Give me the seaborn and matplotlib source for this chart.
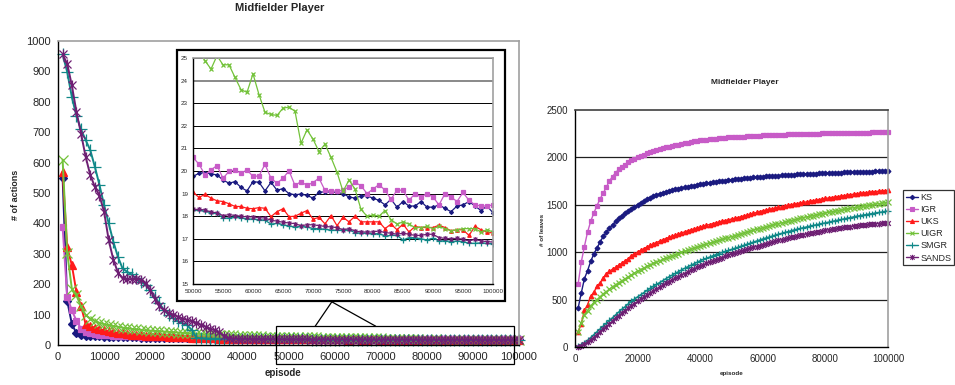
import numpy as np
import pandas as pd
import matplotlib
matplotlib.use('Agg')
import matplotlib.pyplot as plt
import seaborn as sns
from matplotlib.path import Path
from matplotlib.patches import Rectangle
from matplotlib.lines import Line2D

# ── data ────────────────────────────────────────────────────
algorithms = ['KS', 'IGR', 'UKS', 'UIGR', 'SMGR', 'SANDS']

# number of actions, episodes 1000..49000 (left chart, before the zoomed part)
ks_act_early = [550, 145, 70, 38, 33, 31, 30, 29, 28, 27.5,
                27, 26.6, 26.2, 25.8, 25.4, 25, 24.7, 24.4, 24.1, 23.8,
                23.5, 23.3, 23.1, 22.9, 22.7, 22.5, 22.3, 22.1, 22, 21.8,
                21.6, 21.4, 21.3, 21.1, 21, 20.9, 20.8, 20.7, 20.6, 20.5,
                20.4, 20.3, 20.2, 20.1, 20.1, 20, 19.9, 19.9, 19.8]
igr_act_early = [388, 158, 114, 80, 54, 43, 38, 36, 34, 33,
                 32, 31, 30, 29.5, 29, 28.5, 28, 27.5, 27, 26.6,
                 26.2, 25.8, 25.4, 25, 24.7, 24.4, 24.1, 23.8, 23.5, 23.2,
                 23, 22.8, 22.6, 22.4, 22.2, 22, 21.9, 21.8, 21.7, 21.6,
                 21.5, 21.4, 21.3, 21.2, 21.1, 21, 20.9, 20.8, 20.7]
uks_act_early = [570, 321, 263, 174, 128, 68, 62, 57, 52, 48,
                 45, 42, 40, 38, 36, 34, 33, 32, 31, 30,
                 29, 28.5, 28, 27.5, 27, 26.5, 26, 25, 24, 23,
                 22.5, 22, 21.7, 21.4, 21.1, 20.9, 20.7, 20.5, 20.3, 20.1,
                 20, 19.9, 19.8, 19.7, 19.6, 19.5, 19.4, 19.3, 19.2]
uigr_act_early = [610, 304, 185, 163, 127, 98, 87, 79, 73, 68,
                  65, 62, 60, 57, 55, 53, 51, 50, 48, 47,
                  46, 45, 44, 43, 42, 41, 40, 39, 38, 37,
                  36, 35.5, 35, 34, 33, 32.5, 32, 31.5, 31, 30,
                  29.5, 29, 28.5, 28, 27.5, 27, 26.5, 26, 25.7]
smgr_act_early = [956, 898, 816, 753, 709, 674, 641, 586, 526, 460,
                  400, 340, 290, 252, 241, 232, 219, 208, 197, 181,
                  159, 137, 115, 99, 88, 78, 72, 65, 50, 24,
                  22, 21.5, 21, 20.6, 20.3, 20, 19.8, 19.6, 19.4, 19.2,
                  19.1, 19, 18.9, 18.8, 18.7, 18.6, 18.5, 18.4, 18.35]
sands_act_early = [956, 925, 854, 767, 695, 619, 559, 520, 491, 438,
                   345, 281, 238, 219, 216, 217, 217, 215, 203, 180,
                   152, 128, 116, 105, 100, 93, 87, 82, 78, 73,
                   66, 60, 54, 48, 42, 30, 22, 21, 20.6, 20.3,
                   20, 19.7, 19.4, 19.2, 19, 18.8, 18.6, 18.5, 18.4]

# number of actions, episodes 50000..100000 (zoomed inset)
ks_act_late = [19.76, 19.9, 19.93, 19.87, 19.83, 19.6, 19.46, 19.53, 19.27, 19.12,
               19.53, 19.5, 19.12, 19.5, 19.15, 19.22, 19.0, 18.95, 18.98, 18.92,
               18.8, 19.07, 19.07, 19.07, 19.05, 19.0, 18.85, 18.8, 18.9, 18.9,
               18.8, 18.7, 18.5, 18.75, 18.4, 18.65, 18.45, 18.45, 18.65, 18.4,
               18.4, 18.5, 18.35, 18.2, 18.45, 18.5, 18.65, 18.45, 18.25, 18.45, 18.15]
igr_act_late = [20.6, 20.3, 19.83, 20.05, 20.24, 19.68, 19.98, 20.05, 19.9, 20.05,
                19.76, 19.78, 20.3, 19.68, 19.46, 19.68, 20.01, 19.36, 19.53, 19.36,
                19.49, 19.68, 19.14, 19.12, 19.1, 19.15, 19.3, 19.5, 19.35, 19.0,
                19.2, 19.4, 19.15, 18.75, 19.15, 19.15, 18.7, 19.0, 18.85, 19.0,
                18.85, 18.5, 19.0, 18.85, 18.65, 19.05, 18.7, 18.5, 18.45, 18.45, 18.5]
uks_act_late = [19.06, 18.83, 18.97, 18.8, 18.68, 18.65, 18.55, 18.43, 18.43, 18.35,
                18.33, 18.38, 18.35, 17.98, 18.2, 18.33, 17.98, 18.0, 18.13, 18.25,
                17.87, 17.95, 17.66, 18.03, 17.58, 17.95, 17.75, 18.0, 17.75, 17.75,
                17.75, 17.75, 17.45, 17.65, 17.4, 17.65, 17.3, 17.55, 17.5, 17.5,
                17.5, 17.6, 17.5, 17.35, 17.4, 17.4, 17.15, 17.55, 17.4, 17.3, 17.25]
uigr_act_late = [25.5, 25.3, 24.88, 24.51, 25.1, 24.7, 24.7, 24.14, 23.6, 23.48,
                 24.3, 23.38, 22.6, 22.5, 22.46, 22.78, 22.83, 22.64, 21.23, 21.82,
                 21.41, 20.86, 21.19, 20.6, 19.95, 19.1, 19.6, 19.2, 18.3, 18.0,
                 18.05, 18.0, 18.25, 17.85, 17.65, 17.75, 17.65, 17.5, 17.5, 17.55,
                 17.45, 17.55, 17.45, 17.35, 17.4, 17.45, 17.45, 17.45, 17.3, 17.4, 17.3]
smgr_act_late = [18.28, 18.27, 18.22, 18.15, 18.12, 17.92, 17.92, 17.98, 17.93, 17.88,
                 17.87, 17.85, 17.82, 17.65, 17.68, 17.62, 17.57, 17.52, 17.55, 17.52,
                 17.45, 17.45, 17.42, 17.38, 17.38, 17.38, 17.4, 17.27, 17.25, 17.25,
                 17.22, 17.23, 17.12, 17.15, 17.15, 16.95, 17.05, 17.05, 17.0, 16.95,
                 17.03, 16.9, 16.92, 16.88, 16.9, 16.88, 16.8, 16.8, 16.82, 16.8, 16.78]
sands_act_late = [18.3, 18.3, 18.28, 18.18, 18.15, 18.02, 18.07, 18.03, 18.0, 17.97,
                  17.97, 17.93, 17.92, 17.82, 17.78, 17.73, 17.7, 17.67, 17.58, 17.62,
                  17.62, 17.58, 17.55, 17.52, 17.5, 17.4, 17.45, 17.35, 17.3, 17.3,
                  17.3, 17.35, 17.27, 17.25, 17.2, 17.25, 17.2, 17.15, 17.15, 17.2,
                  17.2, 17.05, 17.02, 17.0, 17.02, 16.98, 16.9, 16.98, 16.9, 16.88, 16.85]

# number of leaves, episodes 1000..100000 (right chart)
ks_leaves = [411, 569, 720, 804, 902, 980, 1043, 1106, 1166, 1208,
             1253, 1289, 1324, 1359, 1387, 1411, 1436, 1454, 1475, 1500,
             1522, 1541, 1559, 1575, 1590, 1603, 1615, 1626, 1636, 1645,
             1654, 1662, 1670, 1677, 1684, 1691, 1697, 1703, 1709, 1715,
             1720, 1726, 1731, 1736, 1741, 1746, 1751, 1756, 1761, 1766,
             1770, 1773, 1776, 1779, 1782, 1785, 1788, 1791, 1794, 1797,
             1799, 1802, 1804, 1806, 1808, 1810, 1812, 1814, 1816, 1818,
             1820, 1821, 1823, 1825, 1826, 1828, 1829, 1831, 1832, 1834,
             1835, 1836, 1838, 1839, 1840, 1841, 1843, 1844, 1845, 1846,
             1847, 1848, 1849, 1850, 1851, 1852, 1853, 1854, 1855, 1856]
igr_leaves = [664, 895, 1060, 1211, 1324, 1412, 1489, 1562, 1622, 1685,
              1752, 1798, 1840, 1875, 1903, 1924, 1949, 1973, 1987, 2000,
              2015, 2030, 2042, 2054, 2065, 2075, 2085, 2095, 2105, 2114,
              2121, 2128, 2135, 2142, 2149, 2156, 2162, 2168, 2174, 2180,
              2184, 2188, 2191, 2195, 2198, 2201, 2204, 2207, 2210, 2212,
              2214, 2216, 2218, 2220, 2222, 2224, 2226, 2228, 2230, 2232,
              2233, 2235, 2236, 2238, 2239, 2240, 2241, 2242, 2243, 2244,
              2245, 2246, 2247, 2248, 2249, 2250, 2251, 2252, 2253, 2254,
              2255, 2255, 2256, 2257, 2257, 2258, 2259, 2259, 2260, 2260,
              2261, 2261, 2262, 2262, 2263, 2263, 2264, 2264, 2265, 2265]
uks_leaves = [158, 246, 386, 446, 534, 576, 639, 674, 727, 772,
              797, 822, 839, 864, 885, 909, 930, 962, 983, 1001,
              1020, 1038, 1055, 1071, 1087, 1102, 1116, 1130, 1143, 1156,
              1168, 1180, 1192, 1203, 1214, 1225, 1235, 1245, 1255, 1265,
              1274, 1283, 1292, 1301, 1310, 1318, 1326, 1334, 1342, 1350,
              1356, 1365, 1374, 1383, 1392, 1401, 1410, 1419, 1428, 1437,
              1444, 1451, 1458, 1465, 1472, 1479, 1486, 1493, 1500, 1507,
              1513, 1519, 1525, 1531, 1537, 1543, 1549, 1555, 1561, 1567,
              1572, 1577, 1582, 1587, 1592, 1597, 1602, 1607, 1612, 1617,
              1621, 1625, 1629, 1633, 1637, 1640, 1643, 1646, 1649, 1652]
uigr_leaves = [160, 255, 340, 385, 430, 470, 500, 530, 560, 585,
               610, 635, 658, 680, 700, 720, 740, 760, 780, 800,
               817, 834, 851, 866, 881, 895, 909, 923, 937, 950,
               962, 974, 986, 998, 1010, 1021, 1032, 1043, 1054, 1065,
               1075, 1085, 1095, 1105, 1115, 1125, 1135, 1145, 1155, 1165,
               1175, 1185, 1195, 1205, 1214, 1223, 1232, 1241, 1250, 1259,
               1268, 1277, 1286, 1294, 1302, 1310, 1318, 1326, 1334, 1342,
               1350, 1358, 1366, 1373, 1380, 1387, 1394, 1401, 1408, 1415,
               1421, 1427, 1433, 1439, 1445, 1451, 1457, 1463, 1469, 1475,
               1481, 1487, 1492, 1497, 1502, 1507, 1512, 1517, 1522, 1530]
smgr_leaves = [10, 25, 45, 70, 100, 130, 160, 190, 220, 250,
               280, 310, 340, 370, 400, 425, 455, 480, 505, 530,
               552, 574, 596, 618, 640, 660, 680, 700, 720, 740,
               758, 776, 794, 812, 830, 846, 862, 878, 894, 910,
               923, 936, 949, 962, 975, 986, 997, 1008, 1019, 1030,
               1041, 1052, 1063, 1074, 1085, 1096, 1107, 1118, 1129, 1140,
               1150, 1160, 1170, 1180, 1190, 1199, 1208, 1217, 1226, 1235,
               1243, 1251, 1259, 1267, 1275, 1282, 1289, 1296, 1303, 1310,
               1317, 1324, 1331, 1338, 1345, 1352, 1359, 1366, 1373, 1380,
               1386, 1392, 1397, 1403, 1408, 1414, 1419, 1424, 1430, 1435]
sands_leaves = [5, 15, 30, 50, 75, 100, 130, 160, 188, 215,
                245, 275, 305, 332, 360, 385, 410, 435, 458, 480,
                502, 524, 546, 568, 590, 610, 630, 650, 670, 690,
                707, 724, 741, 758, 775, 791, 807, 823, 839, 855,
                868, 881, 894, 907, 920, 932, 944, 956, 968, 980,
                990, 1000, 1010, 1020, 1030, 1040, 1050, 1060, 1070, 1080,
                1089, 1098, 1107, 1116, 1124, 1132, 1140, 1148, 1156, 1165,
                1172, 1179, 1186, 1193, 1200, 1206, 1212, 1218, 1224, 1230,
                1236, 1241, 1246, 1251, 1256, 1261, 1266, 1271, 1275, 1280,
                1284, 1287, 1290, 1293, 1296, 1299, 1302, 1305, 1308, 1311]

episodes = np.arange(1000, 100001, 1000)
episodes_late = np.arange(50000, 100001, 1000)

actions_late = dict(zip(algorithms, [ks_act_late, igr_act_late, uks_act_late,
                                     uigr_act_late, smgr_act_late, sands_act_late]))
# the early list ends at 49000 and the late list starts at 50000
actions = {name: early + actions_late[name] for name, early in zip(
    algorithms, [ks_act_early, igr_act_early, uks_act_early,
                 uigr_act_early, smgr_act_early, sands_act_early])}
leaves = dict(zip(algorithms, [ks_leaves, igr_leaves, uks_leaves,
                               uigr_leaves, smgr_leaves, sands_leaves]))

# ── style ───────────────────────────────────────────────────
sns.set_style('white')
plt.rcParams['font.family'] = ['Liberation Sans', 'DejaVu Sans']

star = Path([(-1, -1), (1, 1), (-1, 1), (1, -1), (0, -1.25), (0, 1.25)],
            [Path.MOVETO, Path.LINETO] * 3)
colors = {'KS': '#1a1a80', 'IGR': '#c75bc7', 'UKS': '#ff1a1a',
          'UIGR': '#73c23a', 'SMGR': '#108888', 'SANDS': '#6e1f73'}
markers = {'KS': 'D', 'IGR': 's', 'UKS': '^', 'UIGR': 'x', 'SMGR': '+', 'SANDS': star}
size_scale = {'KS': 0.7, 'IGR': 0.8, 'UKS': 0.9, 'UIGR': 1.1, 'SMGR': 1.4, 'SANDS': 1.2}


def draw(ax, x, y, name, ms, lw, clip=True):
    sns.lineplot(x=x, y=y, ax=ax, color=colors[name], marker=markers[name],
                 markersize=ms * size_scale[name], markeredgewidth=0.9,
                 markeredgecolor=colors[name], linewidth=lw, label=name,
                 clip_on=clip, legend=False)


def excel_frame(ax):
    for side in ['left', 'bottom']:
        ax.spines[side].set_color('black')
        ax.spines[side].set_linewidth(1.0)
    for side in ['top', 'right']:
        ax.spines[side].set_color('#a0a0a0')
        ax.spines[side].set_linewidth(1.2)
    ax.tick_params(direction='out', length=3, width=0.8, color='black', pad=2)
    ax.set_xlabel('')
    ax.set_ylabel('')


fig = plt.figure(figsize=(9.55, 3.85), dpi=100)
W, H = 955, 385


def box(l, t, r, b):
    return [l / W, (H - b) / H, (r - l) / W, (b - t) / H]


# ── left chart: number of actions ──────────────────────────
ax1 = fig.add_axes(box(58, 41, 519, 345))
for name in algorithms:
    draw(ax1, episodes, actions[name], name, ms=6, lw=1.4, clip=False)
ax1.set_xlim(0, 100000)
ax1.set_ylim(0, 1000)
ax1.set_xticks(range(0, 100001, 10000))
ax1.set_yticks(range(0, 1001, 100))
ax1.tick_params(labelsize=8)
excel_frame(ax1)

# zoom box and callout
ax1.add_patch(Rectangle((47200, -63), 51700, 125, fill=False, edgecolor='black',
                        linewidth=0.9, clip_on=False, zorder=5))
ax1.plot([55800, 59400, 68900], [62, 142, 62], color='black', linewidth=0.9,
         clip_on=False, zorder=5)

fig.text(280 / W, 1 - 8 / H, 'Midfielder Player', ha='center', va='center',
         fontsize=8, fontweight='bold')
fig.text(15 / W, 1 - 195 / H, '# of actions', rotation=90, ha='center',
         va='center', fontsize=6.5, fontweight='bold')
fig.text(283 / W, 1 - 373 / H, 'episode', ha='center', va='center',
         fontsize=7, fontweight='bold')

# inset frame
frame = Rectangle((177 / W, (H - 301) / H), 328 / W, 251 / H, transform=fig.transFigure,
                  facecolor='white', edgecolor='black', linewidth=1.6, zorder=6)
fig.patches.append(frame)

ax_in = fig.add_axes(box(193, 58, 493, 284))
ax_in.set_zorder(7)
for name in algorithms:
    draw(ax_in, episodes_late, actions_late[name], name, ms=2.8, lw=0.9)
ax_in.set_xlim(50000, 100000)
ax_in.set_ylim(15, 25)
ax_in.set_xticks(range(50000, 100001, 5000))
ax_in.set_yticks(range(15, 26))
for v in range(16, 26):
    ax_in.axhline(v, color='#808080' if v == 24 else 'black',
                  linewidth=1.3 if v == 24 else 0.7, zorder=0)
ax_in.tick_params(labelsize=4.5)
excel_frame(ax_in)
ax_in.tick_params(length=2, pad=1.5)

# ── right chart: number of leaves ──────────────────────────
ax2 = fig.add_axes(box(575, 110, 888, 347))
for v in [500, 1000, 1500, 2000]:
    ax2.axhline(v, color='#202020', linewidth=0.9, zorder=0)
for name in algorithms:
    draw(ax2, episodes, leaves[name], name, ms=3.5, lw=1.0, clip=False)
ax2.set_xlim(0, 100000)
ax2.set_ylim(0, 2500)
ax2.set_xticks(range(0, 100001, 20000))
ax2.set_yticks(range(0, 2501, 500))
ax2.tick_params(labelsize=7)
excel_frame(ax2)
ax2.spines['top'].set_color('#404040')

fig.text(745 / W, 1 - 83 / H, 'Midfielder Player', ha='center', va='center',
         fontsize=6, fontweight='bold')
fig.text(543 / W, 1 - 230 / H, '# of leaves', rotation=90, ha='center',
         va='center', fontsize=4.5, fontweight='bold')
fig.text(732 / W, 1 - 374 / H, 'episode', ha='center', va='center',
         fontsize=4.5, fontweight='bold')

handles = [Line2D([], [], color=colors[n], marker=markers[n], linewidth=1.0,
                  markersize=3.2 * size_scale[n], markeredgewidth=0.8,
                  markeredgecolor=colors[n]) for n in algorithms]
leg = fig.legend(handles, algorithms, loc='upper right',
                 bbox_to_anchor=(954 / W, 1 - 190 / H), fontsize=6.5,
                 frameon=True, fancybox=False, edgecolor='black',
                 handlelength=1.4, handletextpad=0.2, borderpad=0.3,
                 labelspacing=0.35, borderaxespad=0)
leg.get_frame().set_linewidth(0.9)

fig.savefig('out.png', dpi=100)
